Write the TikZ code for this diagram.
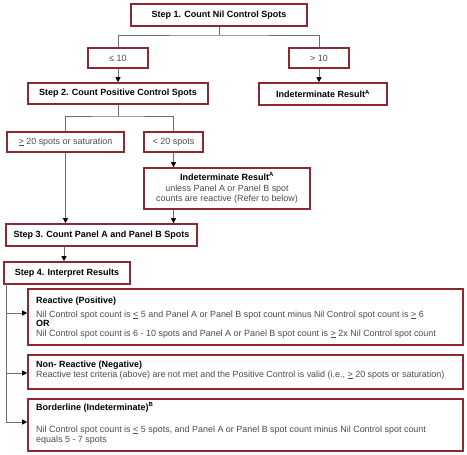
\documentclass[tikz,border=0pt]{standalone}
\usepackage{fontspec}
\setmainfont{Liberation Sans}
\usetikzlibrary{arrows.meta}
\definecolor{boxred}{RGB}{140,42,52}
\definecolor{linegray}{RGB}{110,110,110}
\definecolor{txtgray}{RGB}{75,75,75}
\tikzset{
  box/.style={draw=boxred, line width=1.6pt, rectangle, inner sep=0pt, fill=white},
  hd/.style={font=\fontsize{9}{10}\selectfont\bfseries, text=black, inner sep=0pt},
  bd/.style={font=\fontsize{8.95}{10}\selectfont, text=txtgray, inner sep=0pt},
  conn/.style={draw=linegray, line width=0.8pt},
  arr/.style={conn, -{Triangle[length=5pt,width=5pt,color=black]}},
}
\begin{document}
\begin{tikzpicture}[x=1pt,y=-1pt]
\useasboundingbox (0,0) rectangle (467,455);
% top boxes
\node[box, hd, minimum width=176pt, minimum height=22pt] (s1) at (219,15) {Step 1. Count Nil Control Spots};
\node[box, bd, minimum width=60pt, minimum height=20pt] (le10) at (118,58) {≤ 10};
\node[box, bd, minimum width=60pt, minimum height=20pt] (gt10) at (319,58) {> 10};
\node[box, hd, minimum width=180pt, minimum height=21pt] (s2) at (118,93.5) {Step 2. Count Positive Control Spots};
\node[box, hd, minimum width=128pt, minimum height=22pt] (ind1) at (323,94) {Indeterminate Result\textsuperscript{A}};
\node[box, bd, minimum width=117pt, minimum height=20pt] (ge20) at (65.5,142) {\underline{>} 20 spots or saturation};
\node[box, bd, minimum width=59pt, minimum height=20pt] (lt20) at (173.5,142) {< 20 spots};
\node[box, minimum width=166pt, minimum height=41pt] (ind2) at (227,188.5) {};
\node[hd, anchor=base] (ind2a) at (227,180) {Indeterminate Result\textsuperscript{A}};
\node[bd, anchor=base] (ind2b) at (227,191) {unless Panel A or Panel B spot};
\node[bd, anchor=base] (ind2c) at (227,201) {counts are reactive (Refer to below)};
\node[box, hd, minimum width=191pt, minimum height=22pt] (s3) at (101.5,235) {Step 3. Count Panel A and Panel B Spots};
\node[box, hd, minimum width=126pt, minimum height=22pt] (s4) at (67,273) {Step 4. Interpret Results};
% result boxes
\node[box, minimum width=435pt, minimum height=56pt] (react) at (245.5,317) {};
\node[box, minimum width=435pt, minimum height=34pt] (nonr) at (245.5,372) {};
\node[box, minimum width=435pt, minimum height=52pt] (bord) at (245.5,425) {};
\node[hd, anchor=base west] (rh) at (36,303) {Reactive (Positive)};
\node[bd, anchor=base west] (r1) at (36,317) {Nil Control spot count is \underline{<} 5 and Panel A or Panel B spot count minus Nil Control spot count is \underline{>} 6};
\node[hd, anchor=base west] (ror) at (36,326) {OR};
\node[bd, anchor=base west] (r2) at (36,336) {Nil Control spot count is 6 - 10 spots and Panel A or Panel B spot count is \underline{>} 2x Nil Control spot count};
\node[hd, anchor=base west] (nh) at (36,367) {Non- Reactive (Negative)};
\node[bd, anchor=base west] (n1) at (36,377) {Reactive test criteria (above) are not met and the Positive Control is valid (i.e., \underline{>} 20 spots or saturation)};
\node[hd, anchor=base west] (bh) at (36,410) {Borderline (Indeterminate)\textsuperscript{B}};
\node[bd, anchor=base west] (b1) at (36,432) {Nil Control spot count is \underline{<} 5 spots, and Panel A or Panel B spot count minus Nil Control spot count};
\node[bd, anchor=base west] (b2) at (36,442) {equals 5 - 7 spots};
% connectors
\coordinate (j1) at (219,35);
\draw[conn] (s1.south) -- (j1);
\draw[conn] (le10.north) |- (j1) -| (gt10.north);
\draw[arr] (le10.south) -- (s2.north -| le10.south);
\draw[arr] (gt10.south) -- (ind1.north -| gt10.south);
\coordinate (j2) at (118,116);
\draw[conn] (s2.south) -- (j2);
\draw[conn] (ge20.north) |- (j2) -| (lt20.north);
\draw[arr] (lt20.south) -- (ind2.north -| lt20.south);
\draw[arr] (ge20.south) -- (s3.north -| ge20.south);
\draw[arr] (ind2.south -| lt20.south) -- (s3.north -| lt20.south);
\coordinate (s4a) at (64,284);
\draw[arr] (s3.south -| s4a) -- (s4.north -| s4a);
\coordinate (v0) at (6,284);
\coordinate (v1) at (6,313);
\coordinate (v2) at (6,373);
\coordinate (v3) at (6,422);
\draw[conn] (v0) -- (v3);
\draw[arr] (v1) -- (react.west |- v1);
\draw[arr] (v2) -- (nonr.west |- v2);
\draw[arr] (v3) -- (bord.west |- v3);
\end{tikzpicture}
\end{document}
